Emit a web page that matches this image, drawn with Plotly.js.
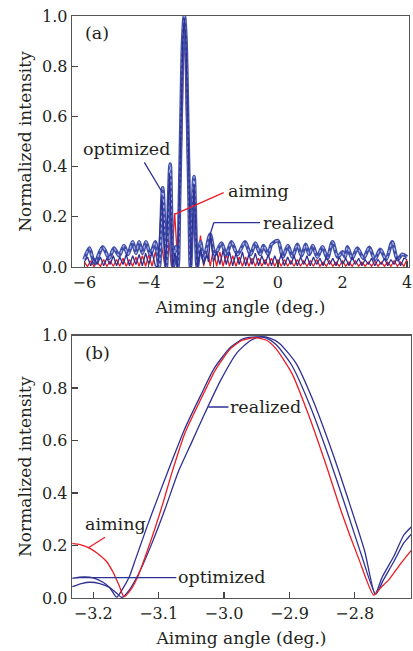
<!DOCTYPE html>
<html>
<head>
<meta charset="utf-8">
<script src="https://cdn.plot.ly/plotly-3.0.1.min.js"></script>
<style>html,body{margin:0;padding:0;background:#fff;}#chart{width:413px;height:651px;}</style>
</head>
<body>
<div id="chart"></div>
<script>
// ---------- Panel (a) data ----------
var aimingAX = [-6.0,-5.9,-5.8,-5.7,-5.6,-5.5,-5.4,-5.3,-5.2,-5.1,-5.0,-4.9,-4.8,-4.7,-4.6,-4.5,-4.4,-4.3,-4.2,-4.1,
  -4.0,-3.9,-3.8,-3.7,-3.6,-3.5,-3.4,-3.3,-3.2,-3.1,-3.0,-2.9,-2.8,-2.7,-2.6,-2.5,-2.4,-2.3,-2.2,-2.1,
  -2.0,-1.9,-1.8,-1.7,-1.6,-1.5,-1.4,-1.3,-1.2,-1.1,-1.0,-0.9,-0.8,-0.7,-0.6,-0.5,-0.4,-0.3,-0.2,-0.1,
  0.0,0.1,0.2,0.3,0.4,0.5,0.6,0.7,0.8,0.9,1.0,1.1,1.2,1.3,1.4,1.5,1.6,1.7,1.8,1.9,
  2.0,2.1,2.2,2.3,2.4,2.5,2.6,2.7,2.8,2.9,3.0,3.1,3.2,3.3,3.4,3.5,3.6,3.7,3.8,3.9,4.0];
var aimingAY = [0.02,0.002,0.025,0.002,0.02,0.002,0.03,0.002,0.025,0.003,0.03,0.003,0.035,0.003,0.03,0.003,0.04,0.003,0.045,0.003,
  0.05,0.003,0.06,0.003,0.08,0.003,0.13,0.003,0.215,0.003,0.42,1.0,0.42,0.003,0.215,0.003,0.125,0.003,0.085,0.003,
  0.07,0.003,0.06,0.003,0.05,0.003,0.045,0.003,0.04,0.003,0.04,0.003,0.035,0.003,0.035,0.003,0.03,0.003,0.035,0.003,
  0.03,0.003,0.03,0.003,0.025,0.003,0.03,0.003,0.025,0.003,0.025,0.003,0.03,0.003,0.02,0.003,0.025,0.003,0.02,0.003,
  0.025,0.003,0.02,0.003,0.025,0.003,0.02,0.003,0.02,0.003,0.025,0.003,0.02,0.003,0.02,0.003,0.025,0.003,0.02,0.003,0.03];

var optimizedAX = [-6.0,-5.84,-5.68,-5.43,-5.23,-5.08,-4.92,-4.77,-4.65,-4.5,-4.4,-4.3,-4.2,-4.09,-3.95,-3.8,
  -3.68,-3.57,-3.46,-3.34,-3.25,-3.17,-3.1,-3.05,-3.0,-2.95,-2.9,-2.85,-2.8,-2.75,-2.71,-2.6,-2.5,-2.4,-2.3,
  -2.1,-1.95,-1.75,-1.6,-1.44,-1.25,-1.02,-0.85,-0.7,-0.55,-0.45,-0.3,-0.2,0.0,0.15,0.31,0.45,0.6,0.73,0.86,0.97,
  1.08,1.22,1.38,1.53,1.69,1.85,2.0,2.08,2.15,2.3,2.46,2.65,2.83,3.0,3.17,3.35,3.54,3.7,3.85,4.0];
var optimizedAY = [0.03,0.075,0.015,0.08,0.035,0.075,0.045,0.085,0.05,0.1,0.055,0.1,0.055,0.1,0.05,0.1,
  0.0,0.315,0.0,0.41,0.0,0.08,0.0,0.26,0.6,0.9,1.0,0.9,0.6,0.26,0.0,0.36,0.0,0.1,0.03,
  0.13,0.05,0.095,0.05,0.1,0.05,0.1,0.05,0.095,0.05,0.085,0.05,0.09,0.105,0.04,0.085,0.04,0.09,0.045,0.09,0.05,
  0.085,0.04,0.08,0.035,0.1,0.04,0.06,0.04,0.08,0.035,0.075,0.035,0.078,0.03,0.07,0.03,0.1,0.03,0.05,0.04];

var realizedAX = [-6.0,-5.9,-5.8,-5.7,-5.6,-5.5,-5.4,-5.3,-5.2,-5.1,-5.0,-4.9,-4.8,-4.7,-4.6,-4.5,-4.4,-4.3,-4.2,-4.1,
  -4.0,-3.9,-3.8,-3.72,-3.6,-3.48,-3.36,-3.26,-3.19,-3.11,-3.05,-3.0,-2.95,-2.9,-2.85,-2.8,-2.75,-2.7,-2.6,-2.5,
  -2.4,-2.3,-2.2,-2.15,-2.09,-2.0,-1.9,-1.8,-1.7,-1.6,-1.5,-1.4,-1.3,-1.2,-1.1,-1.0,-0.9,-0.8,-0.7,-0.6,
  -0.5,-0.4,-0.3,-0.2,-0.1,0.0,0.1,0.2,0.3,0.4,0.5,0.6,0.7,0.8,0.9,1.0,1.1,1.2,1.3,1.4,
  1.5,1.6,1.7,1.8,1.9,2.0,2.1,2.2,2.3,2.4,2.5,2.6,2.7,2.8,2.9,3.0,3.1,3.2,3.3,3.4,3.5,3.6,3.7,3.8,3.9,4.0];
var realizedAY = [0.02,0.04,0.005,0.035,0.01,0.04,0.005,0.035,0.01,0.045,0.005,0.04,0.01,0.05,0.005,0.045,0.01,0.05,0.005,0.055,
  0.01,0.06,0.005,0.0,0.28,0.0,0.37,0.0,0.055,0.0,0.27,0.62,0.9,0.99,0.9,0.62,0.27,0.0,0.33,0.0,
  0.07,0.01,0.05,0.02,0.135,0.02,0.06,0.01,0.065,0.01,0.06,0.005,0.055,0.01,0.06,0.005,0.05,0.01,0.055,0.005,
  0.045,0.01,0.05,0.005,0.045,0.01,0.05,0.005,0.04,0.01,0.045,0.005,0.04,0.01,0.045,0.005,0.04,0.01,0.035,0.005,
  0.04,0.01,0.035,0.005,0.04,0.01,0.035,0.005,0.04,0.01,0.035,0.005,0.03,0.01,0.035,0.005,0.03,0.01,0.035,0.005,0.03,0.01,0.04,0.005,0.035,0.03];

// ---------- Panel (b) data ----------
var aimingBX = [-3.232,-3.22,-3.205,-3.19,-3.18,-3.17,-3.16,-3.153,-3.143,-3.133,-3.115,-3.095,-3.08,-3.06,-3.036,-3.013,
  -2.99,-2.972,-2.952,-2.935,-2.92,-2.896,-2.871,-2.845,-2.82,-2.794,-2.771,-2.76,-2.748,-2.73,-2.713];
var aimingBY = [0.208,0.203,0.189,0.163,0.14,0.1,0.045,0.005,0.03,0.075,0.196,0.348,0.475,0.627,0.754,0.869,
  0.95,0.982,0.992,0.982,0.948,0.855,0.7,0.515,0.325,0.15,0.011,0.04,0.069,0.13,0.183];

var optimizedBX = [-3.232,-3.215,-3.2,-3.185,-3.175,-3.164,-3.155,-3.145,-3.135,-3.118,-3.1,-3.08,-3.06,-3.036,-3.015,
  -2.99,-2.97,-2.95,-2.935,-2.92,-2.896,-2.868,-2.84,-2.815,-2.79,-2.768,-2.756,-2.74,-2.725,-2.713];
var optimizedBY = [0.075,0.08,0.077,0.06,0.04,0.003,0.035,0.08,0.15,0.27,0.39,0.52,0.645,0.77,0.875,
  0.955,0.988,0.995,0.99,0.965,0.885,0.73,0.54,0.355,0.165,0.015,0.07,0.14,0.21,0.245];

var realizedBX = [-3.232,-3.218,-3.205,-3.19,-3.175,-3.165,-3.156,-3.145,-3.13,-3.11,-3.09,-3.07,-3.05,-3.03,-3.005,
  -2.98,-2.96,-2.945,-2.93,-2.915,-2.89,-2.865,-2.835,-2.81,-2.785,-2.769,-2.758,-2.74,-2.725,-2.713];
var realizedBY = [0.043,0.055,0.06,0.055,0.04,0.02,0.002,0.03,0.095,0.21,0.34,0.48,0.59,0.7,0.83,
  0.935,0.98,0.995,0.99,0.97,0.895,0.76,0.56,0.375,0.18,0.015,0.08,0.16,0.24,0.272];

var yTickVals = [0, 0.2, 0.4, 0.6, 0.8, 1.0];

var RED = '#ec1c24', BLUE = '#2e3192', THICK = '#3f4ea8', DOTS = '#aab2e2';
var FONT = 'DejaVu Serif, serif', TXT = '#231f20';

var traces = [
  {x: aimingAX, y: aimingAY, xaxis: 'x', yaxis: 'y', mode: 'lines', line: {color: RED, width: 1.3}},
  {x: optimizedAX, y: optimizedAY, xaxis: 'x', yaxis: 'y', mode: 'lines', line: {color: THICK, width: 3.8, shape: 'spline', smoothing: 0.8}},
  {x: optimizedAX, y: optimizedAY, xaxis: 'x', yaxis: 'y', mode: 'lines', line: {color: DOTS, width: 1.3, dash: 'dot', shape: 'spline', smoothing: 0.8}},
  {x: realizedAX, y: realizedAY, xaxis: 'x', yaxis: 'y', mode: 'lines', line: {color: BLUE, width: 1.3}},
  {x: optimizedBX, y: optimizedBY, xaxis: 'x2', yaxis: 'y2', mode: 'lines', line: {color: BLUE, width: 1.3, shape: 'spline', smoothing: 0.6}},
  {x: realizedBX, y: realizedBY, xaxis: 'x2', yaxis: 'y2', mode: 'lines', line: {color: BLUE, width: 1.3, shape: 'spline', smoothing: 0.6}},
  {x: aimingBX, y: aimingBY, xaxis: 'x2', yaxis: 'y2', mode: 'lines', line: {color: RED, width: 1.3, shape: 'spline', smoothing: 0.6}}
];

function xa(range, dtick, fmt, anchor, domain) {
  return {range: range, domain: domain, dtick: dtick, tick0: 0, tickformat: fmt, anchor: anchor,
    showgrid: false, zeroline: false, showline: true, mirror: true, linecolor: '#555', linewidth: 1.3,
    ticks: 'inside', ticklen: 6, tickwidth: 1.2, tickcolor: '#444', ticklabeloverflow: 'allow',
    tickfont: {family: FONT, size: 16, color: TXT},
    title: {text: 'Aiming angle (deg.)', font: {family: FONT, size: 17, color: TXT}, standoff: 10}};
}
function ya(domain, anchor) {
  return {range: [0, 1.0], domain: domain, tickvals: yTickVals, tickformat: '.1f', anchor: anchor,
    showgrid: false, zeroline: false, showline: true, mirror: true, linecolor: '#555', linewidth: 1.3,
    ticks: 'inside', ticklen: 6, tickwidth: 1.2, tickcolor: '#444',
    tickfont: {family: FONT, size: 16, color: TXT},
    title: {text: 'Normalized intensity', font: {family: FONT, size: 17, color: TXT}, standoff: 6}};
}

function ann(text, x, y, xr, yr) {
  return {text: text, x: x, y: y, xref: xr, yref: yr, xanchor: 'left', yanchor: 'middle', showarrow: false,
    font: {family: FONT, size: 17.5, color: TXT}};
}
function seg(x0, y0, x1, y1, xr, yr, c) {
  return {type: 'line', x0: x0, y0: y0, x1: x1, y1: y1, xref: xr, yref: yr, line: {color: c, width: 1.3}};
}

var layout = {
  width: 413, height: 651, margin: {l: 72, r: 2, t: 16, b: 53},
  paper_bgcolor: '#fff', plot_bgcolor: '#fff', showlegend: false,
  xaxis: xa([-6.38, 4.06], 2, 'd', 'y', [0, 0.9941]),
  yaxis: ya([0.5687, 1], 'x'),
  xaxis2: xa([-3.2325, -2.714], 0.1, '.1f', 'y2', [0, 1]),
  yaxis2: ya([0, 0.451], 'x2'),
  annotations: [
    ann('(a)', -6.05, 0.932, 'x', 'y'),
    ann('optimized', -6.09, 0.47, 'x', 'y'),
    ann('aiming', -1.6, 0.304, 'x', 'y'),
    ann('realized', -0.52, 0.1765, 'x', 'y'),
    ann('(b)', -3.216, 0.933, 'x2', 'y2'),
    ann('realized', -2.994, 0.7276, 'x2', 'y2'),
    ann('optimized', -3.074, 0.08, 'x2', 'y2'),
    ann('aiming', -3.215, 0.282, 'x2', 'y2')
  ],
  shapes: [
    seg(-4.139, 0.417, -3.577, 0.296, 'x', 'y', BLUE),
    seg(-1.682, 0.296, -3.187, 0.211, 'x', 'y', RED),
    seg(-0.556, 0.1765, -1.989, 0.1765, 'x', 'y', BLUE),
    seg(-1.989, 0.1765, -2.091, 0.134, 'x', 'y', BLUE),
    seg(-3.0239, 0.7276, -2.9932, 0.7276, 'x2', 'y2', BLUE),
    seg(-3.2248, 0.0773, -3.073, 0.0773, 'x2', 'y2', BLUE),
    seg(-3.2075, 0.1916, -3.1819, 0.2312, 'x2', 'y2', RED)
  ]
};

Plotly.newPlot('chart', traces, layout, {displayModeBar: false, staticPlot: true});
</script>
</body>
</html>
